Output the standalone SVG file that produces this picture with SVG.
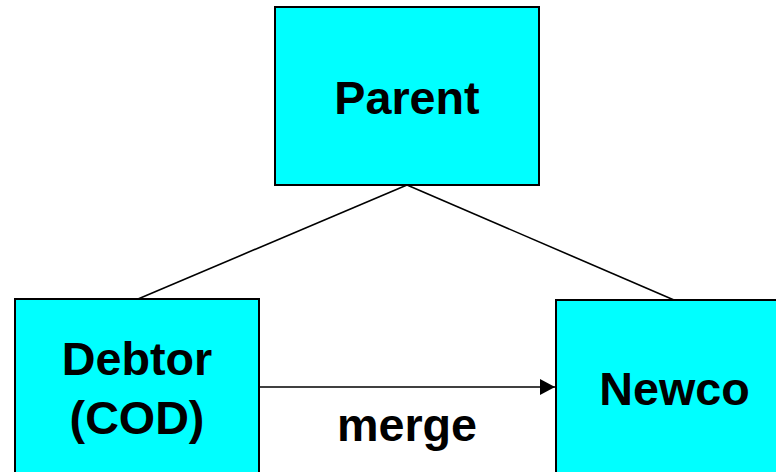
<svg xmlns="http://www.w3.org/2000/svg" width="776" height="472" viewBox="0 0 776 472">
<style>
.box{fill:#00FFFF;stroke:#000;stroke-width:2}
.lbl{font-family:"Liberation Sans",Arial,sans-serif;font-weight:bold;font-size:46.7px;fill:#000;text-anchor:middle}
.ln{stroke:#000;stroke-width:1.6;fill:none}
</style>
<defs>
<marker id="arr" markerWidth="16" markerHeight="16" refX="15" refY="8" orient="auto" markerUnits="userSpaceOnUse">
<path d="M0,0 L15,8 L0,16 Z" fill="#000"/>
</marker>
</defs>
<rect width="776" height="472" fill="#fff"/>
<g id="connectors">
<line class="ln" x1="407" y1="185" x2="138" y2="299"/>
<line class="ln" x1="407" y1="185" x2="674" y2="300"/>
<line class="ln" x1="259" y1="387" x2="555" y2="387" marker-end="url(#arr)"/>
<text class="lbl" x="407" y="441">merge</text>
</g>
<g id="parent">
<rect class="box" x="275" y="7" width="264" height="178"/>
<text class="lbl" x="407" y="114">Parent</text>
</g>
<g id="debtor">
<rect class="box" x="15" y="299" width="244" height="180"/>
<text class="lbl" x="137" y="375">Debtor</text>
<text class="lbl" x="137" y="434">(COD)</text>
</g>
<g id="newco">
<rect class="box" x="556" y="300" width="230" height="180"/>
<text class="lbl" x="674.5" y="405">Newco</text>
</g>
</svg>
